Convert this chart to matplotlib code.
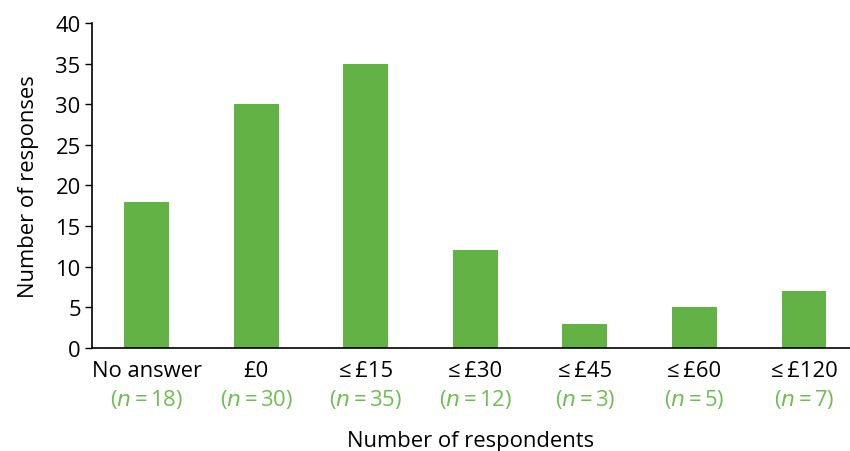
import matplotlib.pyplot as plt
import matplotlib.transforms as mtransforms

plt.rcParams['font.family'] = ['Open Sans', 'DejaVu Sans']

# Data
categories = ["No answer", "£0", "≤\u2009£15", "≤\u2009£30", "≤\u2009£45", "≤\u2009£60", "≤\u2009£120"]
responses = [18, 30, 35, 12, 3, 5, 7]
respondents = [18, 30, 35, 12, 3, 5, 7]

bar_color = "#62b246"
n_color = "#6cbf4f"
fs = 15.8

fig = plt.figure(figsize=(8.5, 4.52), dpi=100)
ax = fig.add_axes([0.108, 0.228, 0.892, 0.719])

x = list(range(len(categories)))
ax.bar(x, responses, width=0.41, color=bar_color)

ax.set_xlim(-0.5, 6.42)
ax.set_ylim(0, 40)
ax.set_yticks(range(0, 41, 5))
ax.set_xticks(x)
ax.set_xticklabels(categories)
ax.tick_params(axis="x", length=0, pad=9, labelsize=fs)
ax.tick_params(axis="y", length=5, width=1, labelsize=fs, pad=3)

for side in ["top", "right"]:
    ax.spines[side].set_visible(False)
for side in ["left", "bottom"]:
    ax.spines[side].set_linewidth(1.2)

trans = mtransforms.blended_transform_factory(ax.transData, ax.transAxes)
for xi, n in zip(x, respondents):
    ax.text(xi, -0.155, f"($n$\u2009=\u2009{n})", transform=trans, ha="center", va="center",
            color=n_color, fontsize=fs)

ax.set_ylabel("Number of responses", fontsize=fs, labelpad=12)
ax.text(0.5, -0.285, "Number of respondents", transform=ax.transAxes,
        ha="center", va="center", fontsize=fs)

fig.savefig("out.png", dpi=100)
